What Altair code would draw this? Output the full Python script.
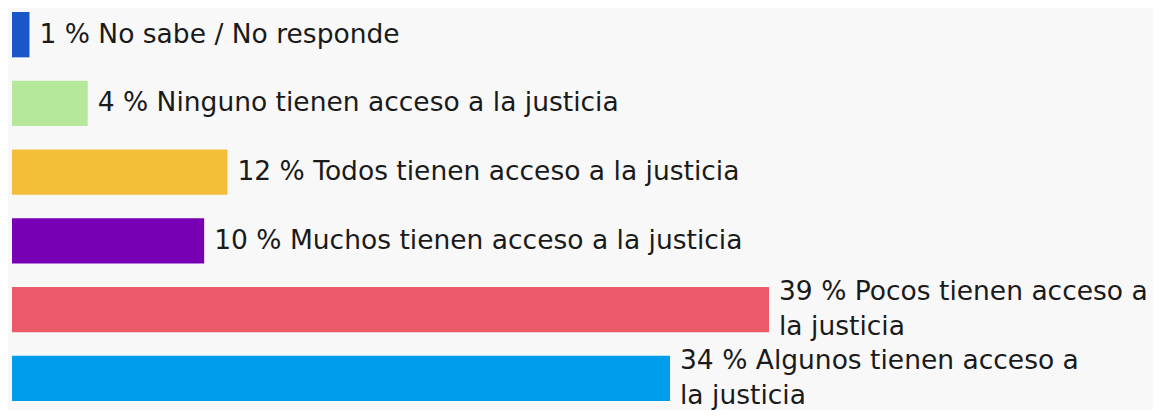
import altair as alt
import pandas as pd

categories = [
    "No sabe / No responde",
    "Ninguno tienen acceso a la justicia",
    "Todos tienen acceso a la justicia",
    "Muchos tienen acceso a la justicia",
    "Pocos tienen acceso a la justicia",
    "Algunos tienen acceso a la justicia",
]
values = [0.9, 3.9, 11.1, 9.9, 39.0, 33.9]
labels = [
    "1 % No sabe / No responde",
    "4 % Ninguno tienen acceso a la justicia",
    "12 % Todos tienen acceso a la justicia",
    "10 % Muchos tienen acceso a la justicia",
    "39 % Pocos tienen acceso a\nla justicia",
    "34 % Algunos tienen acceso a\nla justicia",
]
colors = ["#1957c8", "#b5e89b", "#f3bf3b", "#7700b4", "#ea5a68", "#009ded"]

df = pd.DataFrame({"cat": categories, "value": values, "label": labels})

W = 1141
H = 397
LH = 35
xmax = W * 39.0 / 757

y = alt.Y("cat:N", sort=categories, axis=None,
          scale=alt.Scale(paddingInner=0.34, paddingOuter=0.058))
x = alt.X("value:Q", axis=None, scale=alt.Scale(domain=[0, xmax], nice=False, zero=True))

bars = alt.Chart(df).mark_bar(cornerRadius=0).encode(
    x=x, y=y,
    color=alt.Color("cat:N", scale=alt.Scale(domain=categories, range=colors), legend=None),
)

text_style = dict(align="left", baseline="middle", dx=10, fontSize=26.5, lineHeight=LH,
                  font="DejaVu Sans", color="#1a1a1a", lineBreak="\n")

text_single = alt.Chart(df).transform_filter(
    "indexof(datum.label, '\\n') < 0"
).mark_text(**text_style).encode(x=x, y=y, text="label:N")

text_multi = alt.Chart(df).transform_filter(
    "indexof(datum.label, '\\n') >= 0"
).mark_text(dy=-LH / 2, **text_style).encode(x=x, y=y, text="label:N")

chart = (bars + text_single + text_multi).properties(
    width=W, height=H, background="#f8f8f8",
    padding={"left": 4, "top": 0, "right": 0, "bottom": 0},
).configure_view(stroke=None)

chart.save("out.html", embed_options={"renderer": "svg", "actions": False})
